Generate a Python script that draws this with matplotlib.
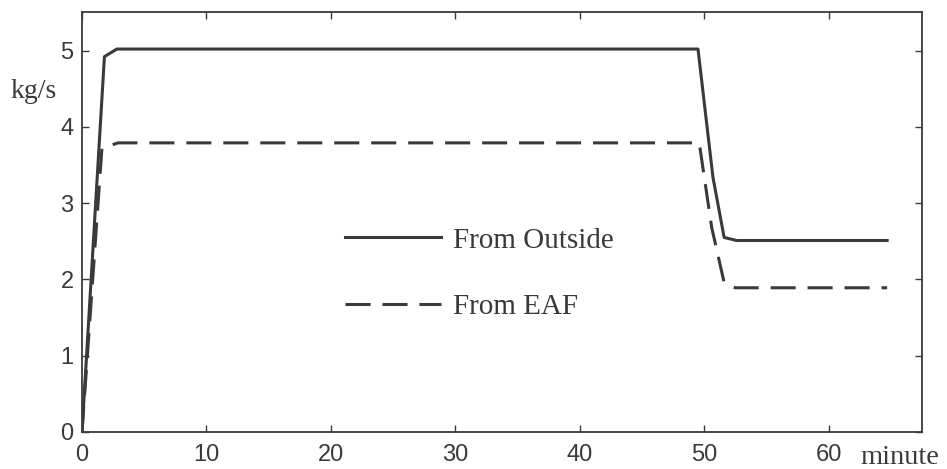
#!/usr/bin/env python3
"""Scrap flow into the furnace over one heat: outside charge vs. EAF return."""

import matplotlib

matplotlib.use("Agg")
import matplotlib.pyplot as plt

# time (minute) and flow (kg/s) breakpoints for each source
outside_t = [0, 1.8, 2.8, 49.5, 50.7, 51.6, 52.6, 64.7]
outside_flow = [0, 4.92, 5.02, 5.02, 3.34, 2.55, 2.51, 2.51]

eaf_t = [0, 1.6, 2.9, 49.6, 50.6, 51.6, 52.5, 64.7]
eaf_flow = [0, 3.72, 3.79, 3.79, 2.68, 1.96, 1.89, 1.89]

x_ticks = [0, 10, 20, 30, 40, 50, 60]
y_ticks = [0, 1, 2, 3, 4, 5]

INK = "#3a3a3a"
SERIF = "Liberation Serif"

plt.rcParams["font.family"] = ["Liberation Sans", "DejaVu Sans"]


def main() -> None:
    fig = plt.figure(figsize=(9.47, 4.69), dpi=100)
    ax = fig.add_axes([0.0866, 0.079, 0.8870, 0.8945])

    ax.plot(outside_t, outside_flow, color=INK, lw=2.2, label="From Outside")
    (eaf_line,) = ax.plot(eaf_t, eaf_flow, color=INK, lw=2.2, label="From EAF")
    eaf_line.set_dashes((8.2, 3.9))

    ax.set_xlim(0, 67.5)
    ax.set_ylim(0, 5.5)
    ax.set_xticks(x_ticks)
    ax.set_yticks(y_ticks)
    ax.tick_params(
        direction="in", top=True, right=True, length=5, width=1.0,
        colors=INK, labelsize=17,
    )
    ax.tick_params(axis="x", pad=9)
    ax.tick_params(axis="y", pad=6)
    for spine in ax.spines.values():
        spine.set_color(INK)
        spine.set_linewidth(1.3)

    leg = ax.legend(
        loc="center left", bbox_to_anchor=(0.282, 0.377), frameon=False,
        handlelength=3.3, handletextpad=0.4, labelspacing=1.39,
        prop={"family": SERIF, "size": 21},
    )
    for text in leg.get_texts():
        text.set_color(INK)

    fig.text(0.035, 0.805, "kg/s", family=SERIF, fontsize=20, color=INK,
             ha="center", va="center")
    fig.text(0.950, 0.024, "minute", family=SERIF, fontsize=20.5, color=INK,
             ha="center", va="center")

    fig.savefig("out.png", dpi=100, facecolor="white")
    plt.close(fig)


if __name__ == "__main__":
    main()
